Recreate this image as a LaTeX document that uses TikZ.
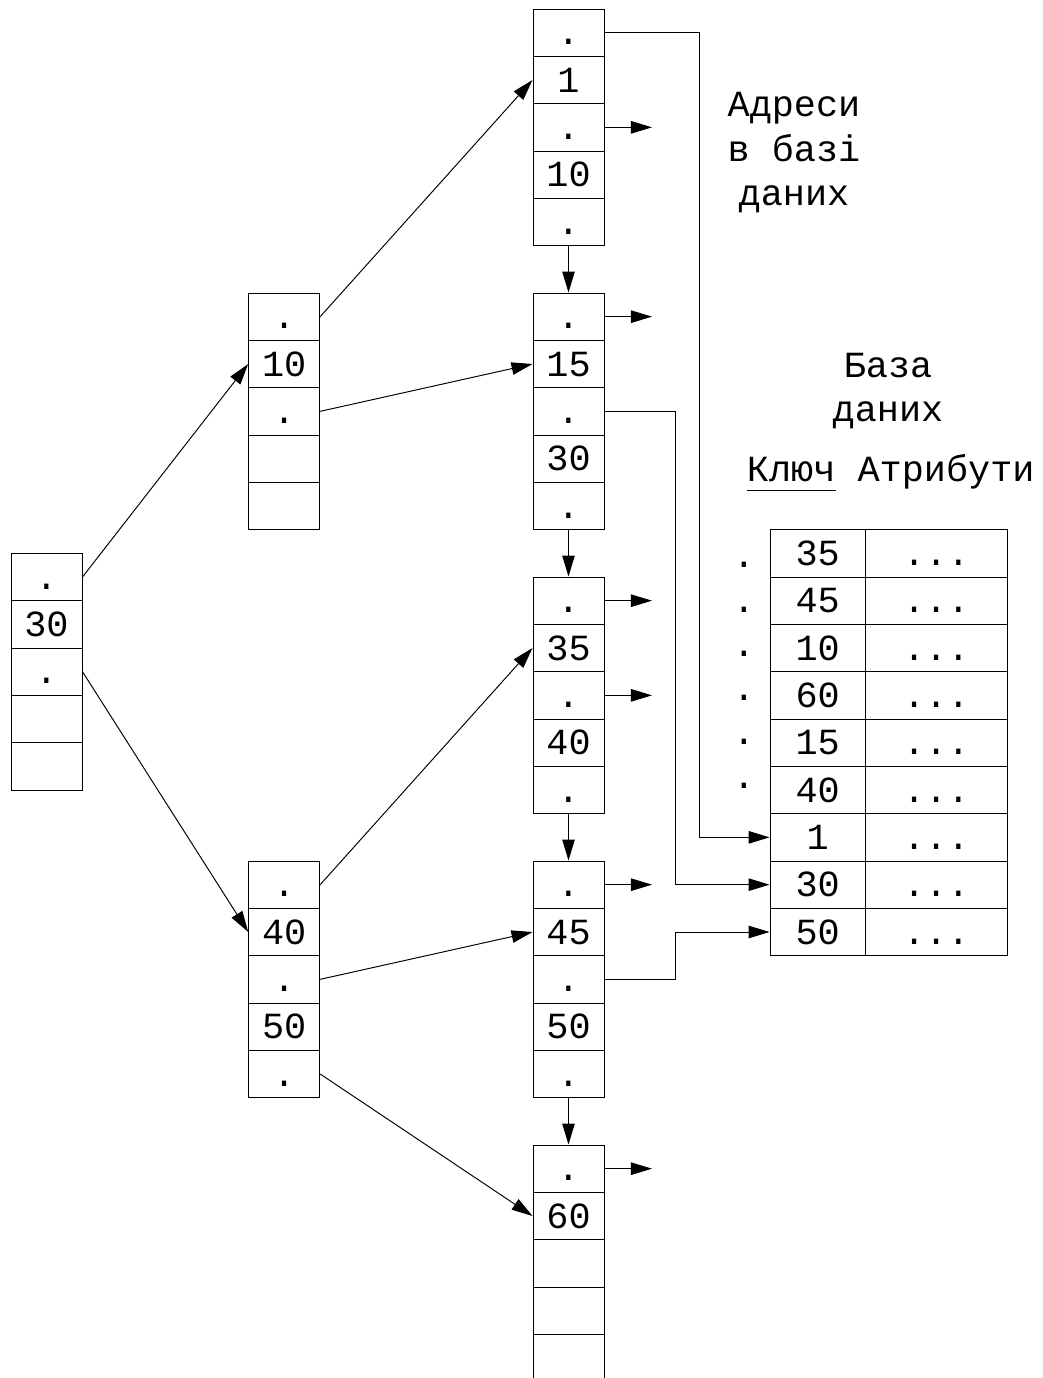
\documentclass[tikz,border=0pt]{standalone}
\usepackage{fontspec}
\newfontfamily\monofont{Liberation Mono}
\usetikzlibrary{arrows.meta}
\tikzset{cell/.style={draw,line width=.7pt,minimum width=.71in,minimum height=.47333in,inner sep=0pt,text height=.24in,text depth=0pt,font=\monofont\fontsize{26.64}{32}\selectfont},
keycell/.style={cell,minimum width=.953in},attcell/.style={cell,minimum width=1.42in},
ptr/.style={line width=.7pt,-{Triangle[length=.21in,width=.125in]}},
lbl/.style={inner sep=0pt,align=center,font=\monofont\fontsize{26.64}{32}\selectfont}}
\begin{document}
\begin{tikzpicture}[x=1in,y=-1in]
\path[use as bounding box] (0,0) rectangle (10.43,13.78);
\clip (0,0) rectangle (10.43,13.78);
% root
\node[cell] (rt1) at (0.46500,5.77000) {.};
\node[cell] (rt2) at (0.46500,6.24333) {30};
\node[cell] (rt3) at (0.46500,6.71667) {.};
\node[cell] (rt4) at (0.46500,7.19000) {};
\node[cell] (rt5) at (0.46500,7.66333) {};
% inner nodes
\node[cell] (ina1) at (2.84200,3.16667) {.};
\node[cell] (ina2) at (2.84200,3.64000) {10};
\node[cell] (ina3) at (2.84200,4.11333) {.};
\node[cell] (ina4) at (2.84200,4.58667) {};
\node[cell] (ina5) at (2.84200,5.06000) {};
\node[cell] (inb1) at (2.84200,8.84667) {.};
\node[cell] (inb2) at (2.84200,9.32000) {40};
\node[cell] (inb3) at (2.84200,9.79333) {.};
\node[cell] (inb4) at (2.84200,10.26667) {50};
\node[cell] (inb5) at (2.84200,10.74000) {.};
% leaves
\node[cell] (lfa1) at (5.68500,0.32667) {.};
\node[cell] (lfa2) at (5.68500,0.80000) {1};
\node[cell] (lfa3) at (5.68500,1.27333) {.};
\node[cell] (lfa4) at (5.68500,1.74667) {10};
\node[cell] (lfa5) at (5.68500,2.22000) {.};
\node[cell] (lfb1) at (5.68500,3.16667) {.};
\node[cell] (lfb2) at (5.68500,3.64000) {15};
\node[cell] (lfb3) at (5.68500,4.11333) {.};
\node[cell] (lfb4) at (5.68500,4.58667) {30};
\node[cell] (lfb5) at (5.68500,5.06000) {.};
\node[cell] (lfc1) at (5.68500,6.00667) {.};
\node[cell] (lfc2) at (5.68500,6.48000) {35};
\node[cell] (lfc3) at (5.68500,6.95333) {.};
\node[cell] (lfc4) at (5.68500,7.42667) {40};
\node[cell] (lfc5) at (5.68500,7.90000) {.};
\node[cell] (lfd1) at (5.68500,8.84667) {.};
\node[cell] (lfd2) at (5.68500,9.32000) {45};
\node[cell] (lfd3) at (5.68500,9.79333) {.};
\node[cell] (lfd4) at (5.68500,10.26667) {50};
\node[cell] (lfd5) at (5.68500,10.74000) {.};
\node[cell] (lfe1) at (5.68500,11.68667) {.};
\node[cell] (lfe2) at (5.68500,12.16000) {60};
\node[cell] (lfe3) at (5.68500,12.63333) {};
\node[cell] (lfe4) at (5.68500,13.10667) {};
\node[cell] (lfe5) at (5.68500,13.58000) {};
% database
\node[keycell] (key1) at (8.17700,5.53333) {35};
\node[keycell] (key2) at (8.17700,6.00667) {45};
\node[keycell] (key3) at (8.17700,6.48000) {10};
\node[keycell] (key4) at (8.17700,6.95333) {60};
\node[keycell] (key5) at (8.17700,7.42667) {15};
\node[keycell] (key6) at (8.17700,7.90000) {40};
\node[keycell] (key7) at (8.17700,8.37333) {1};
\node[keycell] (key8) at (8.17700,8.84667) {30};
\node[keycell] (key9) at (8.17700,9.32000) {50};
\node[attcell] (att1) at (9.36300,5.53333) {...};
\node[attcell] (att2) at (9.36300,6.00667) {...};
\node[attcell] (att3) at (9.36300,6.48000) {...};
\node[attcell] (att4) at (9.36300,6.95333) {...};
\node[attcell] (att5) at (9.36300,7.42667) {...};
\node[attcell] (att6) at (9.36300,7.90000) {...};
\node[attcell] (att7) at (9.36300,8.37333) {...};
\node[attcell] (att8) at (9.36300,8.84667) {...};
\node[attcell] (att9) at (9.36300,9.32000) {...};
\node[lbl,anchor=base] (dot1) at (7.44000,5.67700) {.};
\node[lbl,anchor=base] (dot2) at (7.44000,6.12400) {.};
\node[lbl,anchor=base] (dot3) at (7.44000,6.56700) {.};
\node[lbl,anchor=base] (dot4) at (7.44000,7.00700) {.};
\node[lbl,anchor=base] (dot5) at (7.44000,7.44400) {.};
\node[lbl,anchor=base] (dot6) at (7.44000,7.88400) {.};
% labels
\node[lbl,anchor=base] (addr) at (7.94000,2.05500) {Адреси\\в базі\\даних};
\node[lbl,anchor=base] (dbase) at (8.88000,4.21700) {База\\даних};
\node[lbl,anchor=base west] (hdr) at (7.46700,4.81700) {Ключ Атрибути};
\draw[line width=1pt] ([yshift=-.09in]hdr.base west) -- ++(0.888,0);
% pointers
\draw[ptr] (rt1.east) -- (ina2.west);
\draw[ptr] (rt3.east) -- (inb2.west);
\draw[ptr] (ina1.east) -- (lfa2.west);
\draw[ptr] (ina3.east) -- (lfb2.west);
\draw[ptr] (inb1.east) -- (lfc2.west);
\draw[ptr] (inb3.east) -- (lfd2.west);
\draw[ptr] (inb5.east) -- (lfe2.west);
\draw[ptr] (lfa5.south) -- (lfb1.north);
\draw[ptr] (lfb5.south) -- (lfc1.north);
\draw[ptr] (lfc5.south) -- (lfd1.north);
\draw[ptr] (lfd5.south) -- (lfe1.north);
\draw[ptr] (lfa3.east) -- ++(0.475,0);
\draw[ptr] (lfb1.east) -- ++(0.475,0);
\draw[ptr] (lfc1.east) -- ++(0.475,0);
\draw[ptr] (lfc3.east) -- ++(0.475,0);
\draw[ptr] (lfd1.east) -- ++(0.475,0);
\draw[ptr] (lfe1.east) -- ++(0.475,0);
\draw[ptr] (lfa1.east) -- ++(0.945,0) |- (key7.west);
\draw[ptr] (lfb3.east) -- ++(0.71,0) |- (key8.west);
\draw[ptr] (lfd3.east) -- ++(0.71,0) |- (key9.west);
\end{tikzpicture}
\end{document}
